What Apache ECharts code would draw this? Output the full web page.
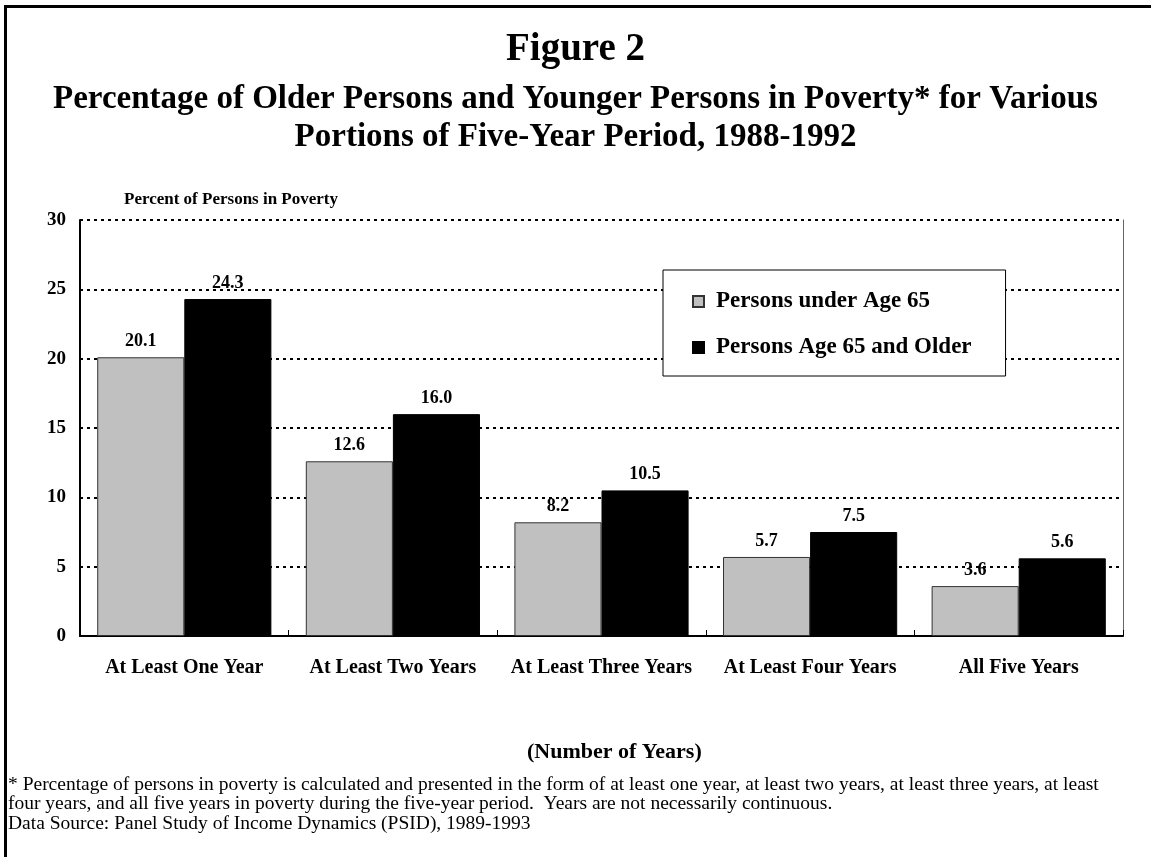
<!DOCTYPE html>
<html>
<head>
<meta charset="utf-8">
<script src="https://cdn.jsdelivr.net/npm/echarts@6/dist/echarts.min.js"></script>
<style>
html,body{margin:0;padding:0;background:#fff;}
#wrap{position:absolute;left:0;top:0;width:1151px;height:857px;}
#frame{position:absolute;left:4px;top:5px;width:1147px;height:852px;border-top:3px solid #000;border-left:3px solid #000;box-sizing:border-box;pointer-events:none;}
#chart{position:absolute;left:0;top:0;width:1151px;height:857px;}
</style>
</head>
<body>
<div id="wrap">
<div id="chart"></div>
<div id="frame"></div>
</div>
<script>
const categories = ['At Least One Year', 'At Least Two Years', 'At Least Three Years', 'At Least Four Years', 'All Five Years'];
const under65 = [20.1, 12.6, 8.2, 5.7, 3.6];
const age65plus = [24.3, 16.0, 10.5, 7.5, 5.6];
const seriesNames = ['Persons under Age 65', 'Persons Age 65 and Older'];

const FONT = '"Liberation Serif", "Times New Roman", serif';
const chart = echarts.init(document.getElementById('chart'));

const labelStyle = {
  show: true, position: 'top', distance: 7,
  fontFamily: FONT, fontWeight: 'bold', fontSize: 18, color: '#000',
  formatter: p => p.value.toFixed(1)
};

chart.setOption({
  animation: false,
  backgroundColor: '#fff',
  title: [
    { text: 'Figure 2', left: 'center', top: 25,
      textStyle: { fontFamily: FONT, fontWeight: 'bold', fontSize: 39, color: '#000' } },
    { text: 'Percentage of Older Persons and Younger Persons in Poverty* for Various\nPortions of Five-Year Period, 1988-1992',
      left: 'center', top: 75,
      textStyle: { fontFamily: FONT, fontWeight: 'bold', fontSize: 33, lineHeight: 38, color: '#000', align: 'center' } },
    { text: '(Number of Years)', left: 522, top: 736,
      textStyle: { fontFamily: FONT, fontWeight: 'bold', fontSize: 22, color: '#000' } },
    { text: '* Percentage of persons in poverty is calculated and presented in the form of at least one year, at least two years, at least three years, at least\nfour years, and all five years in poverty during the five-year period.  Years are not necessarily continuous.\nData Source: Panel Study of Income Dynamics (PSID), 1989-1993',
      left: 3, top: 770,
      textStyle: { fontFamily: FONT, fontWeight: 'normal', fontSize: 19.5, lineHeight: 19.5, color: '#000' } }
  ],
  legend: {
    data: seriesNames,
    orient: 'vertical',
    left: 663, top: 270,
    padding: [20, 34, 17, 29],
    itemGap: 23,
    itemWidth: 11, itemHeight: 11,
    icon: 'rect',
    borderColor: '#000', borderWidth: 1,
    backgroundColor: '#fff',
    textStyle: { fontFamily: FONT, fontWeight: 'bold', fontSize: 23, color: '#000', padding: [0, 0, 0, 7] }
  },
  grid: { left: 80, right: 28, top: 220, bottom: 221, containLabel: false },
  xAxis: {
    type: 'category',
    data: categories,
    axisLine: { show: true, lineStyle: { color: '#000', width: 2 } },
    axisTick: { show: true, inside: true, length: 6, lineStyle: { color: '#000' } },
    axisLabel: { interval: 0, fontFamily: FONT, fontWeight: 'bold', fontSize: 20, color: '#000', margin: 22 }
  },
  yAxis: [
    {
      type: 'value', min: 0, max: 30, interval: 5,
      name: 'Percent of Persons in Poverty',
      nameLocation: 'end', nameGap: 12,
      nameTextStyle: { fontFamily: FONT, fontWeight: 'bold', fontSize: 17, color: '#000', align: 'left', padding: [0, 0, 0, 44] },
      axisLine: { show: true, lineStyle: { color: '#000', width: 2 } },
      axisTick: { show: false },
      axisLabel: { fontFamily: FONT, fontWeight: 'bold', fontSize: 19, color: '#000', margin: 14 },
      splitLine: { show: true, lineStyle: { color: '#000', type: [3, 4], width: 2 } }
    },
    {
      type: 'value', min: 0, max: 30, interval: 5, position: 'right',
      axisLine: { show: true, lineStyle: { color: '#666', width: 1 } },
      axisTick: { show: false }, axisLabel: { show: false }, splitLine: { show: false }
    }
  ],
  series: [
    {
      name: seriesNames[0], type: 'bar', data: under65,
      barGap: '0%', barCategoryGap: '16.5%',
      itemStyle: { color: '#c0c0c0', borderColor: '#333', borderWidth: 1 },
      label: labelStyle, z: 3
    },
    {
      name: seriesNames[1], type: 'bar', data: age65plus,
      barGap: '0%', barCategoryGap: '16.5%',
      itemStyle: { color: '#000', borderColor: '#000', borderWidth: 1 },
      label: labelStyle, z: 3
    }
  ]
});
</script>
</body>
</html>
